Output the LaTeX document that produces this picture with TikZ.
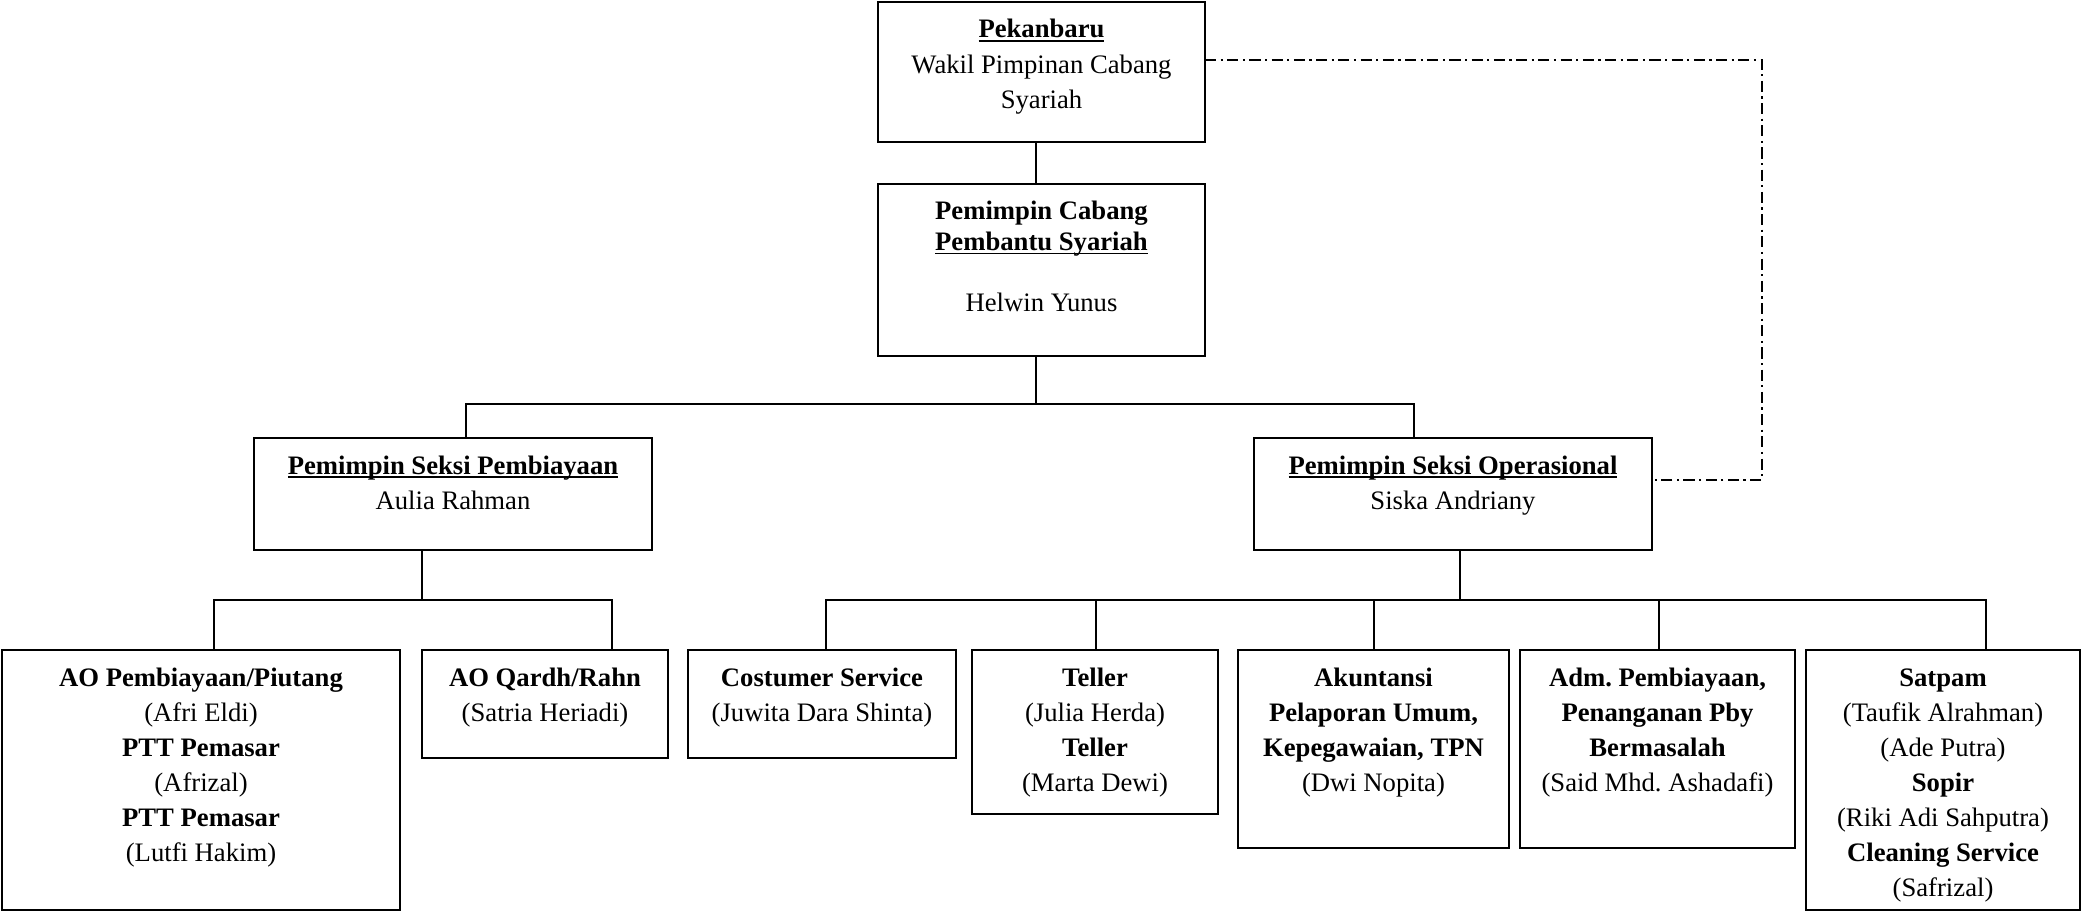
\documentclass[tikz,border=0pt]{standalone}
\usepackage{fontspec}
\setmainfont{Liberation Serif}
\frenchspacing
\newdimen\px
\px=0.45pt
% underline at a fixed depth, crossing descenders
\newcommand{\uln}[1]{\leavevmode\setbox0=\hbox{#1}\rlap{\rule[-1.7pt]{\wd0}{0.7pt}}\box0}
\newcommand{\orgtext}[3]{\parbox[c][#2\px][t]{#1\px}{\centering\fontsize{12}{15.8}\selectfont\rule{0pt}{16.2pt}#3}}

\begin{document}
\begin{tikzpicture}
    [x=0.45pt,y=-0.45pt,
      unit/.style={draw,line width=0.9pt,inner sep=0pt,outer sep=0pt,anchor=north west},
      link/.style={line width=0.8pt},
      advisory/.style={line width=0.7pt,dash pattern=on 5pt off 2pt on 1pt off 2pt}
    ]

    \useasboundingbox (0,0) rectangle (2083,913);

    \node [unit] (pek) at (878,2) {\orgtext{327}{140}{\uln{\textbf{Pekanbaru}}\\ Wakil Pimpinan Cabang\\ Syariah}};
    \node [unit] (pcp) at (878,184) {\orgtext{327}{172}{\textbf{Pemimpin Cabang}\\[-2pt] \uln{\textbf{Pembantu Syariah}}\\[11.7pt] Helwin Yunus}};
    \node [unit] (psp) at (254,438) {\orgtext{398}{112}{\uln{\textbf{Pemimpin Seksi Pembiayaan}}\\ Aulia Rahman}};
    \node [unit] (pso) at (1254,438) {\orgtext{398}{112}{\uln{\textbf{Pemimpin Seksi Operasional}}\\ Siska Andriany}};

    \node [unit] (aop) at (2,650) {\orgtext{398}{260}{\textbf{AO Pembiayaan/Piutang}\\ (Afri Eldi)\\ \textbf{PTT Pemasar}\\ (Afrizal)\\ \textbf{PTT Pemasar}\\ (Lutfi Hakim)}};
    \node [unit] (aoq) at (422,650) {\orgtext{246}{108}{\textbf{AO Qardh/Rahn}\\ (Satria Heriadi)}};
    \node [unit] (cs) at (688,650) {\orgtext{268}{108}{\textbf{Costumer Service}\\ (Juwita Dara Shinta)}};
    \node [unit] (tel) at (972,650) {\orgtext{246}{164}{\textbf{Teller}\\ (Julia Herda)\\ \textbf{Teller}\\ (Marta Dewi)}};
    \node [unit] (aku) at (1238,650) {\orgtext{271}{198}{\textbf{Akuntansi}\\ \textbf{Pelaporan Umum,}\\ \textbf{Kepegawaian, TPN}\\ (Dwi Nopita)}};
    \node [unit] (adm) at (1520,650) {\orgtext{275}{198}{\textbf{Adm. Pembiayaan,}\\ \textbf{Penanganan Pby}\\ \textbf{Bermasalah}\\ (Said Mhd. Ashadafi)}};
    \node [unit] (sat) at (1806,650) {\orgtext{274}{260}{\textbf{Satpam}\\ (Taufik Alrahman)\\ (Ade Putra)\\ \textbf{Sopir}\\ (Riki Adi Sahputra)\\ \textbf{Cleaning Service}\\ (Safrizal)}};

    % branch points
    \coordinate (spine) at (1036,404);
    \coordinate (joint psp) at (466,404);
    \coordinate (joint pso) at (1414,404);
    \coordinate (fork psp) at (422,600);
    \coordinate (joint aop) at (214,600);
    \coordinate (joint aoq) at (612,600);
    \coordinate (fork pso) at (1460,600);
    \coordinate (joint cs) at (826,600);
    \coordinate (joint tel) at (1096,600);
    \coordinate (joint aku) at (1374,600);
    \coordinate (joint adm) at (1659,600);
    \coordinate (joint sat) at (1986,600);
    \coordinate (dd top) at (1762,60);
    \coordinate (dd bot) at (1762,480);

    \draw [link] (spine |- pek.south) -- (spine |- pcp.north);
    \draw [link] (spine |- pcp.south) -- (spine);
    \draw [link] (joint psp |- psp.north) -- (joint psp) -- (joint pso) -- (joint pso |- pso.north);

    \draw [link] (fork psp |- psp.south) -- (fork psp);
    \draw [link] (joint aop |- aop.north) -- (joint aop) -- (joint aoq) -- (joint aoq |- aoq.north);

    \draw [link] (fork pso |- pso.south) -- (fork pso);
    \draw [link] (joint cs |- cs.north) -- (joint cs) -- (joint sat) -- (joint sat |- sat.north);
    \foreach \n in {tel,aku,adm}
        \draw [link] (joint \n) -- (joint \n |- \n.north);

    \draw [advisory] (pek.east |- dd top) -- (dd top) -- (dd bot) -- (dd bot -| pso.east);
  \end{tikzpicture}
\end{document}
